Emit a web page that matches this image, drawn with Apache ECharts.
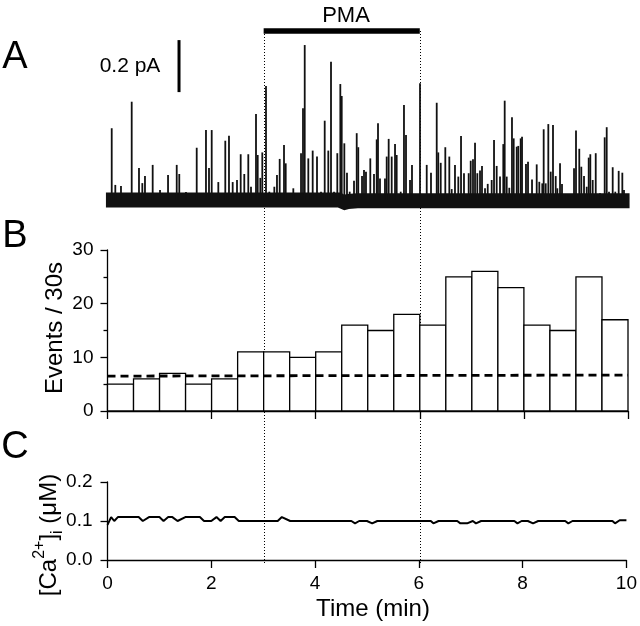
<!DOCTYPE html>
<html>
<head>
<meta charset="utf-8">
<script src="https://cdn.jsdelivr.net/npm/echarts@6/dist/echarts.min.js"></script>
<style>
  html, body { margin: 0; padding: 0; background: #fff; }
  #main { width: 640px; height: 626px; }
</style>
</head>
<body>
<div id="main"></div>
<script>
// ---- A: single-channel trace, spikes (time in min, amplitude in pA)
const spikeTime = [
  0.081, 0.150, 0.259, 0.465, 0.605, 0.669, 0.720, 0.868, 1.009, 1.163, 1.330, 1.379, 1.508, 1.714, 1.892, 1.950, 2.002, 2.129, 2.263, 2.334, 2.405, 2.488,
  2.559, 2.628, 2.705, 2.757, 2.853, 2.886, 2.936, 2.974, 3.045, 3.109, 3.205, 3.256, 3.308, 3.391, 3.424, 3.570, 3.718, 3.756, 3.789, 3.858,
  3.942, 4.025, 4.102, 4.173, 4.242, 4.294, 4.352, 4.415, 4.473, 4.500, 4.550, 4.601, 4.653, 4.736, 4.788, 4.818, 4.890, 4.928, 4.966, 5.049,
  5.120, 5.172, 5.197, 5.235, 5.331, 5.364, 5.402, 5.460, 5.524, 5.556, 5.633, 5.696, 5.735, 5.812, 5.850, 6.004, 6.133, 6.215, 6.325, 6.355,
  6.402, 6.490, 6.567, 6.613, 6.676, 6.740, 6.792, 6.849, 6.939, 6.978, 7.022, 7.061, 7.105, 7.157, 7.195, 7.253, 7.305, 7.381, 7.426, 7.477,
  7.541, 7.604, 7.631,
  7.670, 7.719, 7.771, 7.804, 7.862, 7.892, 7.938, 7.964, 8.040, 8.079, 8.156, 8.246, 8.296, 8.353, 8.380, 8.419, 8.469, 8.515, 8.559, 8.611,
  8.642, 8.694, 8.732, 8.822, 8.872, 8.963, 9.001, 9.064, 9.103, 9.155, 9.207, 9.245, 9.276, 9.322, 9.380, 9.462, 9.552, 9.591, 9.635, 9.706,
  9.756, 9.821, 9.891, 9.923
];
const spikeAmp = [
  0.276, 0.058, 0.054, 0.378, 0.123, 0.065, 0.092, 0.135, 0.038, 0.096, 0.135, 0.100, 0.031, 0.201, 0.269, 0.123, 0.269, 0.069, 0.228, 0.247, 0.069, 0.077,
  0.176, 0.100, 0.176, 0.051, 0.331, 0.173, 0.085, 0.183, 0.438, 0.032, 0.051, 0.096, 0.158, 0.212, 0.141, 0.045, 0.180, 0.353, 0.596, 0.160,
  0.190, 0.167, 0.032, 0.305, 0.190, 0.532, 0.032, 0.180, 0.446, 0.400, 0.218, 0.105, 0.032, 0.074, 0.257, 0.203, 0.092, 0.115, 0.109, 0.160,
  0.100, 0.233, 0.295, 0.083, 0.083, 0.167, 0.235, 0.167, 0.215, 0.173, 0.032, 0.365, 0.250, 0.077, 0.135, 0.449, 0.135, 0.105, 0.374, 0.183,
  0.143, 0.203, 0.167, 0.042, 0.135, 0.090, 0.246, 0.103, 0.103, 0.151, 0.157, 0.220, 0.103, 0.113, 0.131, 0.045, 0.062, 0.077, 0.231, 0.131,
  0.090, 0.215, 0.382,
  0.090, 0.047, 0.318, 0.237, 0.205, 0.208, 0.237, 0.243, 0.138, 0.147, 0.079, 0.137, 0.070, 0.064, 0.272, 0.064, 0.292, 0.109, 0.288, 0.092,
  0.045, 0.141, 0.062, 0.022, 0.019, 0.122, 0.267, 0.197, 0.128, 0.092, 0.051, 0.163, 0.176, 0.077, 0.180, 0.026, 0.241, 0.280, 0.032, 0.126,
  0.032, 0.112, 0.105, 0.038
];
// baseline of the trace (small dip after the artifact near 4.5 min)
const traceBaseTime = [-0.03, 4.48, 4.51, 4.62, 4.8, 10.03];
const traceBaseLevel = [0, 0, -0.012, -0.006, -0.003, -0.003];
const pmaWindow = [3, 6];

// ---- B: events per 30 s bin
const binWidth = 0.5;
const binStart = [0, 0.5, 1, 1.5, 2, 2.5, 3, 3.5, 4, 4.5, 5, 5.5, 6, 6.5, 7, 7.5, 8, 8.5, 9, 9.5];
const eventCount = [5, 6, 7, 5, 6, 11, 11, 10, 11, 16, 15, 18, 16, 25, 26, 23, 16, 15, 25, 17];
const meanLineTime = [0, 10];
const meanLineLevel = [6.5, 6.7];

// ---- C: [Ca2+]i
const caTime = [0, 0.07, 0.13, 0.2, 0.6, 0.68, 0.8, 1.0, 1.08, 1.17, 1.25, 1.35, 1.5, 1.78, 1.86, 2.0, 2.1, 2.18, 2.26, 2.45,
  2.53, 3.28, 3.36, 3.52, 4.7, 4.77, 4.85, 5.0, 5.1, 5.2, 6.23, 6.28, 6.38, 6.74, 6.8, 6.93, 7.04, 7.1, 7.2, 7.84,
  7.9, 7.98, 8.1, 8.2, 8.3, 8.82, 8.88, 8.96, 9.73, 9.78, 9.87, 10];
const caConc = [0.09, 0.11, 0.10, 0.11, 0.11, 0.10, 0.11, 0.11, 0.10, 0.11, 0.11, 0.10, 0.11, 0.11, 0.10, 0.10, 0.11, 0.10, 0.11, 0.11,
  0.10, 0.10, 0.11, 0.10, 0.10, 0.094, 0.10, 0.10, 0.094, 0.10, 0.10, 0.094, 0.10, 0.10, 0.094, 0.094, 0.10, 0.094, 0.10, 0.10,
  0.094, 0.10, 0.10, 0.094, 0.10, 0.10, 0.094, 0.10, 0.10, 0.094, 0.102, 0.102];
const timeTicks = ['0', '2', '4', '6', '8', '10'];

const FONT = '"Liberation Sans", Arial, Helvetica, sans-serif';
const pmaLevel = 0.65;
const scaleBarPA = 0.2;

const chart = echarts.init(document.getElementById('main'));

const axisLine = { show: true, lineStyle: { color: '#000', width: 1.3 } };
const axisTick = { show: true, inside: false, length: 7, lineStyle: { color: '#000', width: 1.3 } };
const tickLabel = { color: '#000', fontSize: 19, fontFamily: FONT };

const zip = (a, b) => a.map((v, i) => [v, b[i]]);
const txt = (id, x, y, text, size, extra) => ({
  id, type: 'text', x, y, ...(extra || {}),
  style: { text, font: size + 'px ' + FONT, fill: '#000', textAlign: 'center', textVerticalAlign: 'middle' }
});

chart.setOption({
  backgroundColor: '#fff',
  animation: false,
  grid: [
    { left: 107.5, width: 520.5, top: 31, height: 182 },
    { left: 107.5, width: 520.5, top: 250, height: 161 },
    { left: 107.5, width: 520.5, top: 482, height: 78 }
  ],
  xAxis: [
    { gridIndex: 0, type: 'value', min: 0, max: 10, show: false },
    {
      gridIndex: 1, type: 'value', min: 0, max: 10, interval: 2, offset: 1,
      axisLine, axisTick: { ...axisTick, length: 8 }, axisLabel: { show: false }, splitLine: { show: false }
    },
    {
      gridIndex: 2, type: 'value', min: 0, max: 10, interval: 2, offset: 3,
      axisLine, axisTick: { ...axisTick, length: 8 },
      axisLabel: { ...tickLabel, margin: 11, formatter: (v) => timeTicks[Math.round(v / 2)] },
      splitLine: { show: false }
    }
  ],
  yAxis: [
    { gridIndex: 0, type: 'value', min: -0.05, max: 0.65, show: false },
    {
      gridIndex: 1, type: 'value', min: 0, max: 30, interval: 10, offset: 3,
      axisLine, axisTick,
      minorTick: { show: true, splitNumber: 2, length: 4, lineStyle: { color: '#000', width: 1.3 } },
      axisLabel: { ...tickLabel, margin: 11 },
      splitLine: { show: false }, minorSplitLine: { show: false }
    },
    {
      gridIndex: 2, type: 'value', min: 0, max: 0.2, interval: 0.1, offset: 3,
      axisLine, axisTick,
      axisLabel: { ...tickLabel, margin: 12, formatter: (v) => v.toFixed(1) },
      splitLine: { show: false }
    }
  ],
  series: [
    // A: baseline band of the current trace
    {
      type: 'line', xAxisIndex: 0, yAxisIndex: 0, clip: false, showSymbol: false,
      data: zip(traceBaseTime, traceBaseLevel),
      lineStyle: { color: '#111', width: 15 }, z: 2
    },
    // A: channel openings
    {
      type: 'custom', xAxisIndex: 0, yAxisIndex: 0,
      data: zip(spikeTime, spikeAmp),
      renderItem: (params, api) => {
        const p0 = api.coord([api.value(0), 0]);
        const p1 = api.coord([api.value(0), api.value(1)]);
        return {
          type: 'line',
          shape: { x1: p0[0], y1: p0[1], x2: p1[0], y2: p1[1] },
          style: { stroke: '#111', lineWidth: 1.8 }
        };
      },
      z: 3
    },
    // A: PMA application bar
    {
      type: 'line', xAxisIndex: 0, yAxisIndex: 0, clip: false, showSymbol: false,
      data: pmaWindow.map((t) => [t, pmaLevel]),
      lineStyle: { color: '#000', width: 5.5 }
    },
    // A: 0.2 pA scale bar
    {
      type: 'line', xAxisIndex: 0, yAxisIndex: 0, clip: false, showSymbol: false,
      data: [[1.374, 0.415], [1.374, 0.415 + scaleBarPA]],
      lineStyle: { color: '#000', width: 3 }
    },
    // B: histogram bars
    {
      type: 'custom', xAxisIndex: 1, yAxisIndex: 1,
      data: zip(binStart, eventCount),
      renderItem: (params, api) => {
        const a = api.coord([api.value(0), api.value(1)]);
        const b = api.coord([api.value(0) + binWidth, 0]);
        return {
          type: 'rect',
          shape: { x: a[0], y: a[1], width: b[0] - a[0], height: b[1] - a[1] },
          style: { fill: '#fff', stroke: '#000', lineWidth: 1.3 }
        };
      },
      z: 2
    },
    // B: dashed control level
    {
      type: 'line', xAxisIndex: 1, yAxisIndex: 1, clip: false, showSymbol: false,
      data: zip(meanLineTime, meanLineLevel),
      lineStyle: { color: '#000', width: 2.8, type: [8, 5] }, z: 4
    },
    // C: calcium
    {
      type: 'line', xAxisIndex: 2, yAxisIndex: 2, showSymbol: false,
      data: zip(caTime, caConc),
      lineStyle: { color: '#000', width: 2 }
    }
  ],
  graphic: [
    txt('lA', 15, 58, 'A', 38),
    txt('lB', 15, 237, 'B', 38),
    txt('lC', 15, 448, 'C', 38),
    txt('sb', 130, 66, '0.2 pA', 21),
    txt('pma', 346, 16, 'PMA', 22),
    txt('yB', 55, 328, 'Events / 30s', 24, { rotation: Math.PI / 2 }),
    {
      id: 'yC', type: 'text', x: 49, y: 535, rotation: Math.PI / 2,
      style: {
        text: '{n|[Ca}{sup|2+}{n|]}{sub|i}{n| (μM)}',
        textAlign: 'center', textVerticalAlign: 'middle', fill: '#000',
        rich: {
          n: { fontSize: 24, fontFamily: FONT, lineHeight: 34, verticalAlign: 'middle' },
          sup: { fontSize: 16, fontFamily: FONT, verticalAlign: 'top' },
          sub: { fontSize: 16, fontFamily: FONT, verticalAlign: 'bottom' }
        }
      }
    },
    txt('xC', 373, 609, 'Time (min)', 24)
  ]
});

// dotted markers of the PMA window, running from the bar down to the time axis
const yTop = chart.convertToPixel({ yAxisIndex: 0 }, pmaLevel);
const yBottom = chart.convertToPixel({ yAxisIndex: 2 }, 0) + 3;
chart.setOption({
  graphic: pmaWindow.map((t, i) => {
    const x = Math.round(chart.convertToPixel({ xAxisIndex: 0 }, t)) + 0.5;
    return {
      id: 'pmaLine' + i, type: 'line', z: 1,
      shape: { x1: x, y1: yTop, x2: x, y2: yBottom },
      style: { stroke: '#000', lineWidth: 1, lineDash: [1, 2] }
    };
  })
});
</script>
</body>
</html>
